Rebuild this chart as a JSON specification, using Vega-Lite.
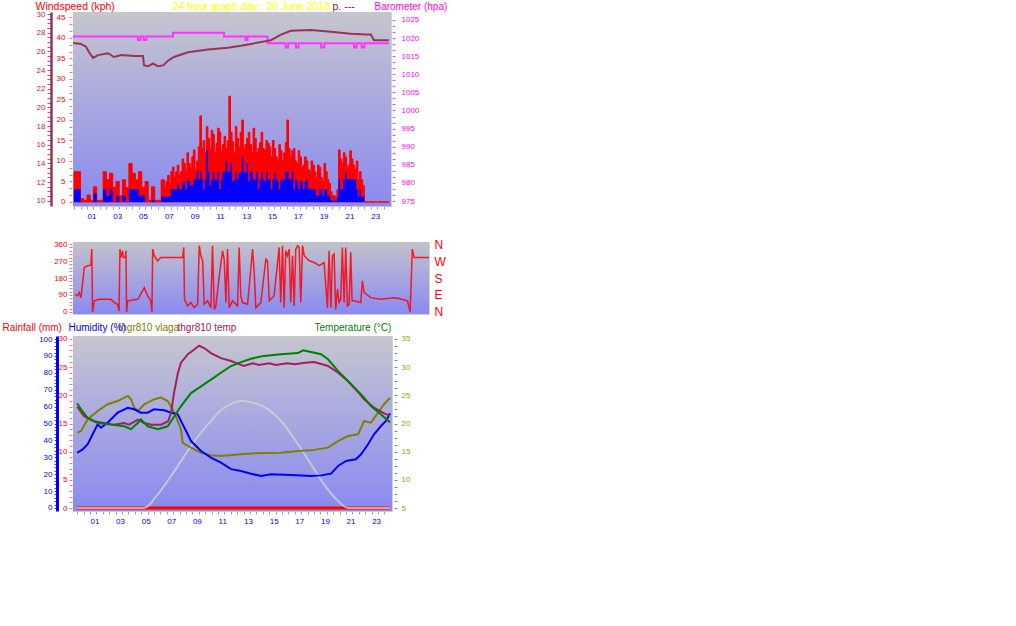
{
"$schema": "https://vega.github.io/schema/vega-lite/v6.json",
"background": "white",
"padding": {"left": 1, "top": 0, "right": 5, "bottom": 5},
"spacing": 2,
"config": {
  "font": "Liberation Sans",
  "view": {"stroke": "#d0d0d8"},
  "axis": {"labelFont": "Liberation Sans", "titleFont": "Liberation Sans", "labelOverlap": false, "labelBound": false, "titleFontWeight": "normal", "labelFlush": false},
  "title": {"font": "Liberation Sans", "fontWeight": "normal"}
},
"datasets": {
  "wind": [
    {"h":0,"g":7.4,"a":3.1},{"h":0.25,"g":7.4,"a":3.1},{"h":0.5,"g":0.8,"a":0},{"h":0.75,"g":0.4,"a":0},
    {"h":1,"g":1.7,"a":0},{"h":1.25,"g":0.4,"a":0},{"h":1.5,"g":3.7,"a":2},{"h":1.75,"g":0.4,"a":0},
    {"h":2,"g":0.4,"a":0},{"h":2.25,"g":7.4,"a":3.1},{"h":2.5,"g":5.4,"a":1.5},{"h":2.75,"g":7,"a":3.1},
    {"h":3,"g":3.6,"a":0},{"h":3.25,"g":5,"a":1.5},{"h":3.5,"g":1.5,"a":0},{"h":3.75,"g":5.4,"a":1.5},
    {"h":4,"g":3.5,"a":0},{"h":4.25,"g":9.4,"a":3.1},{"h":4.5,"g":7,"a":3.1},{"h":4.75,"g":5.4,"a":3.1},
    {"h":5,"g":7.4,"a":1.5},{"h":5.25,"g":3.6,"a":1.5},{"h":5.5,"g":5,"a":0},{"h":5.75,"g":0.4,"a":0},
    {"h":6,"g":3.7,"a":0.5},{"h":6.25,"g":0.4,"a":0},{"h":6.5,"g":0.4,"a":0},{"h":6.75,"g":5.4,"a":1.3},
    {"h":7,"g":3.7,"a":1.3},{"h":7.125,"g":5.0,"a":1.3},{"h":7.25,"g":6.5,"a":1.3},{"h":7.375,"g":4.5,"a":1.3},
    {"h":7.5,"g":7.4,"a":3.1},{"h":7.625,"g":8.5,"a":3.1},{"h":7.75,"g":6,"a":3.1},{"h":7.875,"g":7.4,"a":3.1},
    {"h":8,"g":9,"a":4.5},{"h":8.125,"g":6.5,"a":3.1},{"h":8.25,"g":7.4,"a":3.1},{"h":8.375,"g":10.5,"a":4.5},
    {"h":8.5,"g":9.4,"a":5},{"h":8.625,"g":7.4,"a":3.1},{"h":8.75,"g":12,"a":5.5},{"h":8.875,"g":9.4,"a":5},
    {"h":9,"g":8.5,"a":4},{"h":9.125,"g":11,"a":4},{"h":9.25,"g":12.7,"a":5.5},{"h":9.375,"g":8,"a":5.5},
    {"h":9.5,"g":10,"a":7.4},{"h":9.625,"g":13.5,"a":5.5},{"h":9.75,"g":21,"a":7.4},{"h":9.875,"g":13,"a":5.5},
    {"h":10,"g":15,"a":3.1},{"h":10.125,"g":12,"a":5.5},{"h":10.25,"g":18.4,"a":12.7},{"h":10.375,"g":15.5,"a":7.4},
    {"h":10.5,"g":13,"a":4},{"h":10.625,"g":17.5,"a":5.5},{"h":10.75,"g":16.5,"a":7.4},{"h":10.875,"g":12,"a":5.5},
    {"h":11,"g":14.3,"a":5.5},{"h":11.125,"g":18,"a":7.4},{"h":11.25,"g":17,"a":3.1},{"h":11.375,"g":12.5,"a":5.5},
    {"h":11.5,"g":14,"a":7.4},{"h":11.625,"g":16,"a":7.4},{"h":11.75,"g":13,"a":10},{"h":11.875,"g":15,"a":7.4},
    {"h":12,"g":25.8,"a":7.4},{"h":12.125,"g":17,"a":9.4},{"h":12.25,"g":14.7,"a":5},{"h":12.375,"g":12,"a":5.5},
    {"h":12.5,"g":18.4,"a":7.4},{"h":12.625,"g":15.5,"a":5.5},{"h":12.75,"g":13.4,"a":7},{"h":12.875,"g":17,"a":7.4},
    {"h":13,"g":20,"a":11},{"h":13.125,"g":13,"a":7.4},{"h":13.25,"g":14,"a":7},{"h":13.375,"g":15.5,"a":9.4},
    {"h":13.5,"g":17,"a":5},{"h":13.625,"g":14,"a":7.4},{"h":13.75,"g":12,"a":7.4},{"h":13.875,"g":18,"a":5.5},
    {"h":14,"g":15.5,"a":5.5},{"h":14.125,"g":12,"a":7.4},{"h":14.25,"g":13,"a":3.1},{"h":14.375,"g":14.5,"a":5.5},
    {"h":14.5,"g":17,"a":7.4},{"h":14.625,"g":13,"a":5.5},{"h":14.75,"g":12.5,"a":5},{"h":14.875,"g":15,"a":7.4},
    {"h":15,"g":14.3,"a":5.5},{"h":15.125,"g":13.5,"a":5.5},{"h":15.25,"g":11,"a":3.1},{"h":15.375,"g":15,"a":5.5},
    {"h":15.5,"g":13,"a":7},{"h":15.625,"g":11,"a":5.5},{"h":15.75,"g":10,"a":5},{"h":15.875,"g":14,"a":3.1},
    {"h":16,"g":12.5,"a":5.5},{"h":16.125,"g":10,"a":5.5},{"h":16.25,"g":12,"a":5.5},{"h":16.375,"g":14.5,"a":7.4},
    {"h":16.5,"g":20,"a":7.4},{"h":16.625,"g":13,"a":5.5},{"h":16.75,"g":11,"a":5.5},{"h":16.875,"g":12.5,"a":7.4},
    {"h":17,"g":13,"a":3.1},{"h":17.125,"g":10,"a":5.5},{"h":17.25,"g":9.4,"a":5},{"h":17.375,"g":12.5,"a":3.1},
    {"h":17.5,"g":11,"a":5},{"h":17.625,"g":8.5,"a":5},{"h":17.75,"g":9,"a":3.1},{"h":17.875,"g":11,"a":5},
    {"h":18,"g":10,"a":5.5},{"h":18.125,"g":8,"a":3.1},{"h":18.25,"g":7.4,"a":3.1},{"h":18.375,"g":10,"a":3.1},
    {"h":18.5,"g":9,"a":3.1},{"h":18.625,"g":7.4,"a":3.1},{"h":18.75,"g":6,"a":1.5},{"h":18.875,"g":9,"a":1.5},
    {"h":19,"g":8.5,"a":3.1},{"h":19.125,"g":6,"a":3.1},{"h":19.25,"g":5,"a":1.5},{"h":19.375,"g":9.4,"a":3.1},
    {"h":19.5,"g":7.4,"a":3.1},{"h":19.625,"g":5.5,"a":1.5},{"h":19.75,"g":4.5,"a":1.5},{"h":19.875,"g":2.5,"a":0.5},
    {"h":20,"g":1.5,"a":0.3},{"h":20.125,"g":1.5,"a":0.3},{"h":20.25,"g":1,"a":0.3},{"h":20.375,"g":3,"a":1.3},
    {"h":20.5,"g":12.7,"a":5.5},{"h":20.625,"g":10.5,"a":3.1},{"h":20.75,"g":9.4,"a":3.1},{"h":20.875,"g":12,"a":5.5},
    {"h":21,"g":11,"a":7.4},{"h":21.125,"g":8.5,"a":5.5},{"h":21.25,"g":9,"a":5.5},{"h":21.375,"g":12.5,"a":5.5},
    {"h":21.5,"g":10.5,"a":5.5},{"h":21.625,"g":9,"a":5.5},{"h":21.75,"g":8,"a":5.5},{"h":21.875,"g":10,"a":3.1},
    {"h":22,"g":5.4,"a":1.3},{"h":22.125,"g":7.4,"a":3.1},{"h":22.25,"g":5.4,"a":1.3},{"h":22.375,"g":4,"a":1.3},
    {"h":22.5,"g":0,"a":0},{"h":24.4,"g":0,"a":0}
  ],
  "baro": [
    {"h":-0.08,"p":1020.4},{"h":4.95,"p":1019.5},{"h":5.15,"p":1020.4},{"h":5.4,"p":1019.5},{"h":5.6,"p":1020.4},
    {"h":7.67,"p":1021.5},{"h":11.62,"p":1020.4},{"h":13.3,"p":1019.5},{"h":13.45,"p":1020.4},{"h":15.0,"p":1018.6},
    {"h":16.4,"p":1017.4},{"h":16.6,"p":1018.6},{"h":17.2,"p":1017.4},{"h":17.4,"p":1018.6},{"h":19.15,"p":1017.4},
    {"h":19.4,"p":1018.6},{"h":21.7,"p":1017.4},{"h":21.9,"p":1018.6},{"h":22.3,"p":1017.4},{"h":22.5,"p":1018.6},
    {"h":24.4,"p":1018.6}
  ],
  "ptemp": [
    {"h":-0.08,"v":26.9},{"h":0.53,"v":26.8},{"h":0.92,"v":26.5},{"h":1.16,"v":25.9},{"h":1.47,"v":25.3},
    {"h":1.85,"v":25.6},{"h":2.63,"v":25.8},{"h":3.09,"v":25.4},{"h":3.64,"v":25.6},{"h":4.64,"v":25.5},
    {"h":5.34,"v":25.5},{"h":5.42,"v":24.5},{"h":5.73,"v":24.4},{"h":6.12,"v":24.7},{"h":6.5,"v":24.4},
    {"h":6.9,"v":24.5},{"h":7.28,"v":25.0},{"h":7.74,"v":25.4},{"h":8.83,"v":25.9},{"h":10.38,"v":26.2},
    {"h":11.93,"v":26.4},{"h":12.94,"v":26.6},{"h":13.71,"v":26.8},{"h":15.26,"v":27.2},{"h":16.04,"v":27.8},
    {"h":16.81,"v":28.2},{"h":18.36,"v":28.3},{"h":19.91,"v":28.1},{"h":21.46,"v":27.9},{"h":22.63,"v":27.8},
    {"h":23.01,"v":27.8},{"h":23.25,"v":27.2},{"h":24.41,"v":27.2}
  ],
  "dir": [
    {"h":0,"d":94},{"h":0.18,"d":85},{"h":0.29,"d":103},{"h":0.41,"d":76},{"h":0.52,"d":156},{"h":0.63,"d":236},
    {"h":0.86,"d":245},{"h":1.08,"d":248},{"h":1.14,"d":333},{"h":1.19,"d":0},{"h":1.31,"d":59},{"h":1.65,"d":67},
    {"h":2.44,"d":67},{"h":2.67,"d":50},{"h":2.89,"d":41},{"h":2.99,"d":5},{"h":3.05,"d":333},{"h":3.12,"d":289},
    {"h":3.23,"d":324},{"h":3.28,"d":289},{"h":3.42,"d":289},{"h":3.46,"d":324},{"h":3.5,"d":0},{"h":3.57,"d":59},
    {"h":4.25,"d":67},{"h":4.36,"d":80},{"h":4.7,"d":129},{"h":4.93,"d":85},{"h":5.15,"d":59},{"h":5.22,"d":0},
    {"h":5.27,"d":333},{"h":5.38,"d":298},{"h":5.6,"d":271},{"h":5.83,"d":289},{"h":7.3,"d":289},{"h":7.38,"d":342},
    {"h":7.43,"d":67},{"h":7.64,"d":32},{"h":7.86,"d":50},{"h":8.09,"d":23},{"h":8.32,"d":41},{"h":8.43,"d":351},
    {"h":8.54,"d":298},{"h":8.66,"d":271},{"h":8.77,"d":41},{"h":9.0,"d":59},{"h":9.22,"d":23},{"h":9.33,"d":351},
    {"h":9.45,"d":14},{"h":9.56,"d":32},{"h":9.79,"d":191},{"h":10.01,"d":324},{"h":10.12,"d":280},{"h":10.24,"d":50},
    {"h":10.35,"d":333},{"h":10.46,"d":23},{"h":10.69,"d":59},{"h":11.03,"d":32},{"h":11.14,"d":342},{"h":11.25,"d":85},
    {"h":11.37,"d":50},{"h":11.71,"d":41},{"h":12.05,"d":333},{"h":12.16,"d":209},{"h":12.27,"d":23},{"h":12.61,"d":50},
    {"h":12.95,"d":280},{"h":13.06,"d":271},{"h":13.18,"d":59},{"h":13.51,"d":85},{"h":13.85,"d":342},{"h":13.96,"d":50},
    {"h":14.08,"d":351},{"h":14.19,"d":23},{"h":14.3,"d":324},{"h":14.42,"d":298},{"h":14.53,"d":333},{"h":14.64,"d":50},
    {"h":14.76,"d":298},{"h":14.87,"d":32},{"h":14.98,"d":333},{"h":15.1,"d":351},{"h":15.21,"d":342},{"h":15.32,"d":50},
    {"h":15.44,"d":351},{"h":15.55,"d":298},{"h":15.89,"d":271},{"h":16.23,"d":262},{"h":16.57,"d":245},{"h":16.9,"d":262},
    {"h":17.13,"d":23},{"h":17.24,"d":324},{"h":17.36,"d":23},{"h":17.47,"d":298},{"h":17.58,"d":307},{"h":17.69,"d":14},
    {"h":17.81,"d":121},{"h":17.92,"d":50},{"h":18.03,"d":67},{"h":18.14,"d":342},{"h":18.26,"d":50},{"h":18.37,"d":342},
    {"h":18.48,"d":32},{"h":18.6,"d":41},{"h":18.71,"d":316},{"h":18.8,"d":59},{"h":18.94,"d":59},{"h":19.39,"d":50},
    {"h":19.5,"d":165},{"h":19.62,"d":103},{"h":20.07,"d":76},{"h":20.75,"d":67},{"h":21.65,"d":76},{"h":21.99,"d":71},
    {"h":22.56,"d":59},{"h":22.74,"d":0},{"h":22.89,"d":333},{"h":23.01,"d":289},{"h":24.02,"d":289}
  ],
  "rain": [{"h":0,"r":0},{"h":24.44,"r":0}],
  "solar": [
    {"h":0,"s":0},{"h":5.24,"s":0},{"h":6.29,"s":8.1},{"h":7.33,"s":18.9},{"h":8.63,"s":33.7},{"h":9.67,"s":44.6},
    {"h":10.5,"s":52},{"h":11.23,"s":58},{"h":12.0,"s":61.5},{"h":12.8,"s":63.3},{"h":13.6,"s":62.5},{"h":14.6,"s":59.8},
    {"h":15.92,"s":51.5},{"h":17.25,"s":37.7},{"h":18.27,"s":25.8},{"h":19.28,"s":14.0},{"h":20.38,"s":4.1},{"h":21.16,"s":0},
    {"h":24.44,"s":0}
  ],
  "temp": [
    {"h":0,"T":23.6},{"h":0.3,"T":22.5},{"h":0.82,"T":21.0},{"h":1.6,"T":20.1},{"h":2.64,"T":19.8},{"h":3.66,"T":19.5},
    {"h":4.2,"T":19.0},{"h":4.73,"T":20.1},{"h":4.98,"T":20.7},{"h":5.51,"T":19.5},{"h":6.29,"T":19.0},{"h":7.07,"T":19.5},
    {"h":7.59,"T":21.3},{"h":8.11,"T":23.1},{"h":8.89,"T":25.4},{"h":9.67,"T":26.6},{"h":10.45,"T":27.8},{"h":11.23,"T":29.0},
    {"h":12.02,"T":30.2},{"h":12.8,"T":30.9},{"h":13.58,"T":31.5},{"h":14.59,"T":32.0},{"h":15.92,"T":32.3},{"h":17.25,"T":32.5},
    {"h":17.64,"T":33.0},{"h":18.27,"T":32.7},{"h":19.05,"T":32.3},{"h":19.59,"T":31.4},{"h":20.38,"T":29.3},{"h":21.16,"T":27.5},
    {"h":21.94,"T":25.7},{"h":22.41,"T":24.6},{"h":22.95,"T":23.1},{"h":23.73,"T":21.6},{"h":24.44,"T":20.2}
  ],
  "ttemp": [
    {"h":0,"T":23.0},{"h":0.53,"T":21.3},{"h":1.31,"T":20.4},{"h":2.09,"T":20.1},{"h":2.87,"T":19.8},{"h":3.66,"T":20.1},
    {"h":4.05,"T":19.8},{"h":4.75,"T":20.7},{"h":5.22,"T":20.1},{"h":5.8,"T":19.8},{"h":6.55,"T":19.8},{"h":7.1,"T":20.4},
    {"h":7.33,"T":21.9},{"h":7.56,"T":25.4},{"h":7.87,"T":29.0},{"h":8.11,"T":30.8},{"h":8.65,"T":32.3},{"h":9.12,"T":33.1},
    {"h":9.52,"T":33.8},{"h":9.91,"T":33.4},{"h":10.45,"T":32.5},{"h":11.23,"T":31.6},{"h":12.02,"T":31.1},{"h":12.8,"T":30.4},
    {"h":13.0,"T":30.2},{"h":13.7,"T":30.7},{"h":14.2,"T":30.4},{"h":15.0,"T":30.7},{"h":15.5,"T":30.4},{"h":16.4,"T":30.7},
    {"h":17.0,"T":30.5},{"h":17.8,"T":30.8},{"h":18.5,"T":30.9},{"h":19.0,"T":30.6},{"h":19.59,"T":30.2},{"h":20.38,"T":29.0},
    {"h":21.16,"T":27.5},{"h":21.94,"T":25.6},{"h":22.41,"T":24.3},{"h":23.19,"T":22.8},{"h":23.97,"T":21.8},{"h":24.44,"T":21.4}
  ],
  "hum": [
    {"h":0,"H":32.7},{"h":0.43,"H":34.7},{"h":0.82,"H":37.7},{"h":1.21,"H":43.6},{"h":1.6,"H":49.5},{"h":1.86,"H":47.5},
    {"h":2.38,"H":50.5},{"h":3.16,"H":56.4},{"h":3.95,"H":59.3},{"h":4.46,"H":58.4},{"h":4.98,"H":56.4},{"h":5.51,"H":56.4},
    {"h":6.0,"H":58.4},{"h":6.8,"H":57.8},{"h":7.33,"H":56.4},{"h":7.85,"H":55.4},{"h":8.24,"H":49.5},{"h":8.63,"H":43.6},
    {"h":8.89,"H":39.6},{"h":9.67,"H":33.7},{"h":10.45,"H":29.8},{"h":11.23,"H":26.8},{"h":12.02,"H":23.0},{"h":12.8,"H":21.9},
    {"h":13.58,"H":20.3},{"h":14.36,"H":18.9},{"h":15.14,"H":19.9},{"h":16.7,"H":19.5},{"h":18.27,"H":18.9},{"h":19.05,"H":19.3},
    {"h":19.83,"H":20.3},{"h":20.38,"H":24.9},{"h":21.0,"H":27.8},{"h":21.78,"H":28.8},{"h":22.17,"H":31.8},{"h":22.72,"H":37.7},
    {"h":23.19,"H":43.6},{"h":23.73,"H":48.5},{"h":24.12,"H":51.5},{"h":24.44,"H":56.0}
  ],
  "vlaga": [
    {"h":0,"H":44.6},{"h":0.3,"H":45.6},{"h":0.82,"H":52.5},{"h":1.6,"H":57.4},{"h":2.38,"H":61.4},{"h":3.16,"H":63.3},
    {"h":3.95,"H":66.3},{"h":4.2,"H":64.4},{"h":4.46,"H":59.3},{"h":4.73,"H":57.4},{"h":5.24,"H":61.4},{"h":6.02,"H":64.4},
    {"h":6.55,"H":65.3},{"h":7.07,"H":63.3},{"h":7.59,"H":56.4},{"h":8.11,"H":46.6},{"h":8.24,"H":38.6},{"h":8.89,"H":35.7},
    {"h":9.67,"H":32.7},{"h":10.45,"H":31.2},{"h":11.23,"H":30.7},{"h":12.8,"H":31.8},{"h":13.58,"H":32.3},{"h":15.92,"H":32.7},
    {"h":17.25,"H":33.7},{"h":18.27,"H":34.1},{"h":19.59,"H":35.7},{"h":20.38,"H":39.6},{"h":21.16,"H":42.6},{"h":21.94,"H":43.6},
    {"h":22.41,"H":51.5},{"h":22.95,"H":50.5},{"h":23.5,"H":56.4},{"h":23.97,"H":61.4},{"h":24.44,"H":65.3}
  ]
},
"vconcat": [
{
  "width": 318, "height": 194,
  "resolve": {"scale": {"y": "independent"}},
  "layer": [
    {"data": {"values": [{}]}, "mark": {"type": "rect", "color": {"gradient": "linear", "x1": 0, "y1": 0, "x2": 0, "y2": 1, "stops": [{"offset": 0, "color": "#c6c6ce"}, {"offset": 0.35, "color": "#b0b0dc"}, {"offset": 1, "color": "#8a8af0"}]}}, "encoding": {}},
    {"data": {"name": "wind"}, "mark": {"type": "area", "interpolate": "step-after", "color": "#ff0000", "stroke": "#ff0000", "strokeWidth": 1},
     "encoding": {
       "x": {"field": "h", "type": "quantitative", "scale": {"domain": [-0.085, 24.57], "nice": false, "zero": false},
             "axis": {"values": [0,0.5,1,1.5,2,2.5,3,3.5,4,4.5,5,5.5,6,6.5,7,7.5,8,8.5,9,9.5,10,10.5,11,11.5,12,12.5,13,13.5,14,14.5,15,15.5,16,16.5,17,17.5,18,18.5,19,19.5,20,20.5,21,21.5,22,22.5,23,23.5,24],
                      "labelExpr": "datum.value % 2 == 1 ? (datum.value < 10 ? '0' + datum.value : '' + datum.value) : ''",
                      "labelAlign": "left", "labelColor": "#0000ff", "labelFontSize": 8, "labelPadding": 3, "tickSize": 3, "tickColor": "#a0a0a0", "domainColor": "#c8c8c8",
                      "grid": true, "gridColor": "#eeeeff", "gridDash": [1, 2], "gridOpacity": {"condition": {"test": "datum.value % 2 == 1", "value": 0.5}, "value": 0},
                      "title": " ", "titleFontSize": 11, "titlePadding": 3}},
       "y": {"field": "g", "type": "quantitative", "scale": {"domain": [-0.976, 46.34], "nice": false, "zero": false},
             "axis": {"orient": "left", "offset": 1, "values": [0,1.667,3.333,5,6.667,8.333,10,11.667,13.333,15,16.667,18.333,20,21.667,23.333,25,26.667,28.333,30,31.667,33.333,35,36.667,38.333,40,41.667,43.333,45],
                      "labelExpr": "datum.value % 5 == 0 ? '' + datum.value : ''", "tickSize": 3, "tickColor": "#ff7070", "labelColor": "#ff0000", "labelFontSize": 8, "labelPadding": 4, "domain": false,
                      "grid": true, "gridColor": "#eeeeff", "gridDash": [1, 2], "gridOpacity": {"condition": {"test": "datum.value % 5 == 0", "value": 0.4}, "value": 0},
                      "title": "Windspeed (kph)", "titleColor": "#ff0000", "titleFontSize": 10.5, "titleAngle": 0, "titleAlign": "left", "titleBaseline": "middle", "titleX": -37, "titleY": -6}},
       "y2": {"datum": 0}
     }},
    {"data": {"name": "wind"}, "mark": {"type": "area", "interpolate": "step-after", "color": "#0000ff"},
     "encoding": {
       "x": {"field": "h", "type": "quantitative", "scale": {"domain": [-0.085, 24.57], "nice": false, "zero": false},
             "axis": {"values": [0,0.5,1,1.5,2,2.5,3,3.5,4,4.5,5,5.5,6,6.5,7,7.5,8,8.5,9,9.5,10,10.5,11,11.5,12,12.5,13,13.5,14,14.5,15,15.5,16,16.5,17,17.5,18,18.5,19,19.5,20,20.5,21,21.5,22,22.5,23,23.5,24],
                      "labelExpr": "datum.value % 2 == 1 ? (datum.value < 10 ? '0' + datum.value : '' + datum.value) : ''",
                      "labelAlign": "left", "labelColor": "#0000ff", "labelFontSize": 8, "labelPadding": 3, "tickSize": 3, "tickColor": "#a0a0a0", "domainColor": "#c8c8c8",
                      "grid": true, "gridColor": "#eeeeff", "gridDash": [1, 2], "gridOpacity": {"condition": {"test": "datum.value % 2 == 1", "value": 0.5}, "value": 0},
                      "title": " ", "titleFontSize": 11, "titlePadding": 3}},
       "y": {"field": "a", "type": "quantitative", "scale": {"domain": [-0.976, 46.34], "nice": false, "zero": false},
             "axis": {"orient": "left", "offset": 0, "labels": false, "ticks": false, "domain": false, "grid": false,
                      "title": "24 hour graph day : 20 June 2018", "titleColor": "#ffff00", "titleFontSize": 10.5, "titleAngle": 0, "titleAlign": "left", "titleBaseline": "middle", "titleX": 99, "titleY": -6}},
       "y2": {"datum": 0}
     }},
    {"data": {"name": "baro"}, "mark": {"type": "line", "interpolate": "step-after", "color": "#ff33ff", "strokeWidth": 2},
     "encoding": {
       "x": {"field": "h", "type": "quantitative", "scale": {"domain": [-0.085, 24.57], "nice": false, "zero": false},
             "axis": {"values": [0,0.5,1,1.5,2,2.5,3,3.5,4,4.5,5,5.5,6,6.5,7,7.5,8,8.5,9,9.5,10,10.5,11,11.5,12,12.5,13,13.5,14,14.5,15,15.5,16,16.5,17,17.5,18,18.5,19,19.5,20,20.5,21,21.5,22,22.5,23,23.5,24],
                      "labelExpr": "datum.value % 2 == 1 ? (datum.value < 10 ? '0' + datum.value : '' + datum.value) : ''",
                      "labelAlign": "left", "labelColor": "#0000ff", "labelFontSize": 8, "labelPadding": 3, "tickSize": 3, "tickColor": "#a0a0a0", "domainColor": "#c8c8c8",
                      "grid": true, "gridColor": "#eeeeff", "gridDash": [1, 2], "gridOpacity": {"condition": {"test": "datum.value % 2 == 1", "value": 0.5}, "value": 0},
                      "title": " ", "titleFontSize": 11, "titlePadding": 3}},
       "y": {"field": "p", "type": "quantitative", "scale": {"domain": [973.62, 1027.2], "nice": false, "zero": false},
             "axis": {"orient": "right", "offset": 1, "values": [975,976.667,978.333,980,981.667,983.333,985,986.667,988.333,990,991.667,993.333,995,996.667,998.333,1000,1001.667,1003.333,1005,1006.667,1008.333,1010,1011.667,1013.333,1015,1016.667,1018.333,1020,1021.667,1023.333,1025],
                      "labelExpr": "datum.value % 5 == 0 ? '' + datum.value : ''", "tickSize": 3, "tickColor": "#ff44ff", "labelColor": "#ff00ff", "labelFontSize": 8, "labelPadding": 6, "domain": false, "grid": false,
                      "title": "Barometer (hpa)", "titleColor": "#ff00ff", "titleFontSize": 10, "titleAngle": 0, "titleAlign": "left", "titleBaseline": "middle", "titleX": -18, "titleY": -6}}
     }},
    {"data": {"name": "ptemp"}, "mark": {"type": "line", "color": "#993355", "strokeWidth": 2},
     "encoding": {
       "x": {"field": "h", "type": "quantitative", "scale": {"domain": [-0.085, 24.57], "nice": false, "zero": false},
             "axis": {"values": [0,0.5,1,1.5,2,2.5,3,3.5,4,4.5,5,5.5,6,6.5,7,7.5,8,8.5,9,9.5,10,10.5,11,11.5,12,12.5,13,13.5,14,14.5,15,15.5,16,16.5,17,17.5,18,18.5,19,19.5,20,20.5,21,21.5,22,22.5,23,23.5,24],
                      "labelExpr": "datum.value % 2 == 1 ? (datum.value < 10 ? '0' + datum.value : '' + datum.value) : ''",
                      "labelAlign": "left", "labelColor": "#0000ff", "labelFontSize": 8, "labelPadding": 3, "tickSize": 3, "tickColor": "#a0a0a0", "domainColor": "#c8c8c8",
                      "grid": true, "gridColor": "#eeeeff", "gridDash": [1, 2], "gridOpacity": {"condition": {"test": "datum.value % 2 == 1", "value": 0.5}, "value": 0},
                      "title": " ", "titleFontSize": 11, "titlePadding": 3}},
       "y": {"field": "v", "type": "quantitative", "scale": {"domain": [9.43, 30.22], "nice": false, "zero": false},
             "axis": {"orient": "left", "offset": 22, "values": [10,10.5,11,11.5,12,12.5,13,13.5,14,14.5,15,15.5,16,16.5,17,17.5,18,18.5,19,19.5,20,20.5,21,21.5,22,22.5,23,23.5,24,24.5,25,25.5,26,26.5,27,27.5,28,28.5,29,29.5,30],
                      "labelExpr": "datum.value % 2 == 0 ? '' + datum.value : ''", "tickSize": 4, "tickColor": "#c05080", "domainColor": "#993355", "domainWidth": 2.5, "labelColor": "#cc1a4a", "labelFontSize": 8, "labelPadding": 2, "grid": false,
                      "title": "p. ---", "titleColor": "#8b1a3a", "titleFontSize": 10.5, "titleAngle": 0, "titleAlign": "left", "titleBaseline": "middle", "titleX": 281, "titleY": -6}}
     }}
  ]
},
{
  "width": 356, "height": 72,
  "resolve": {"scale": {"y": "independent"}},
  "layer": [
    {"data": {"values": [{}]}, "mark": {"type": "rect", "color": {"gradient": "linear", "x1": 0, "y1": 0, "x2": 0, "y2": 1, "stops": [{"offset": 0, "color": "#c2c2ca"}, {"offset": 0.4, "color": "#acacdc"}, {"offset": 1, "color": "#8a8af0"}]}}, "encoding": {}},
    {"data": {"name": "dir"}, "mark": {"type": "line", "color": "#ff0000", "strokeWidth": 1.5, "opacity": 0.85},
     "encoding": {
       "x": {"field": "h", "type": "quantitative", "scale": {"domain": [-0.136, 24.02], "nice": false, "zero": false}, "axis": null},
       "y": {"field": "d", "type": "quantitative", "scale": {"domain": [-10.6, 370.6], "nice": false, "zero": false},
             "axis": {"orient": "left", "offset": 1, "values": [0,18,36,54,72,90,108,126,144,162,180,198,216,234,252,270,288,306,324,342,360],
                      "labelExpr": "datum.value % 90 == 0 ? '' + datum.value : ''", "tickSize": 3, "tickColor": "#ff7070", "labelColor": "#ff0000", "labelFontSize": 8, "labelPadding": 2, "domain": false,
                      "grid": true, "gridColor": "#eeeeff", "gridDash": [1, 2], "gridOpacity": {"condition": {"test": "datum.value % 90 == 0", "value": 0.45}, "value": 0}, "title": null}}
     }},
    {"data": {"name": "dir"}, "mark": {"type": "line", "opacity": 0},
     "encoding": {
       "x": {"field": "h", "type": "quantitative", "scale": {"domain": [-0.136, 24.02], "nice": false, "zero": false}, "axis": null},
       "y": {"field": "d", "type": "quantitative", "scale": {"domain": [-10.6, 370.6], "nice": false, "zero": false},
             "axis": {"orient": "right", "offset": 3, "values": [0, 90, 180, 270, 360], "labelExpr": "datum.value == 90 ? 'E' : datum.value == 180 ? 'S' : datum.value == 270 ? 'W' : 'N'",
                      "ticks": false, "domain": false, "grid": false, "labelColor": "#ff0000", "labelFontSize": 12, "labelPadding": 2, "title": null}}
     }}
  ]
},
{
  "width": 319, "height": 175,
  "resolve": {"scale": {"y": "independent"}},
  "layer": [
    {"data": {"values": [{}]}, "mark": {"type": "rect", "color": {"gradient": "linear", "x1": 0, "y1": 0, "x2": 0, "y2": 1, "stops": [{"offset": 0, "color": "#c6c6ce"}, {"offset": 0.35, "color": "#b0b0dc"}, {"offset": 1, "color": "#8a8af0"}]}}, "encoding": {}},
    {"data": {"name": "rain"}, "mark": {"type": "line", "color": "#ff0000", "strokeWidth": 3},
     "encoding": {
       "x": {"field": "h", "type": "quantitative", "scale": {"domain": [-0.328, 24.59], "nice": false, "zero": false},
             "axis": {"values": [0,0.5,1,1.5,2,2.5,3,3.5,4,4.5,5,5.5,6,6.5,7,7.5,8,8.5,9,9.5,10,10.5,11,11.5,12,12.5,13,13.5,14,14.5,15,15.5,16,16.5,17,17.5,18,18.5,19,19.5,20,20.5,21,21.5,22,22.5,23,23.5,24],
                      "labelExpr": "datum.value % 2 == 1 ? (datum.value < 10 ? '0' + datum.value : '' + datum.value) : ''",
                      "labelAlign": "left", "labelColor": "#0000ff", "labelFontSize": 8, "labelPadding": 3, "tickSize": 3, "tickColor": "#a0a0a0", "domainColor": "#c8c8c8",
                      "grid": true, "gridColor": "#eeeeff", "gridDash": [1, 2], "gridOpacity": {"condition": {"test": "datum.value % 2 == 1", "value": 0.5}, "value": 0}, "title": null}},
       "y": {"field": "r", "type": "quantitative", "scale": {"domain": [-0.53, 30.53], "nice": false, "zero": false},
             "axis": {"orient": "left", "offset": 1, "values": [0,1,2,3,4,5,6,7,8,9,10,11,12,13,14,15,16,17,18,19,20,21,22,23,24,25,26,27,28,29,30],
                      "labelExpr": "datum.value % 5 == 0 ? '' + datum.value : ''", "tickSize": 3, "tickColor": "#ff7070", "labelColor": "#ff0000", "labelFontSize": 8, "labelPadding": 2, "domain": false,
                      "grid": true, "gridColor": "#eeeeff", "gridDash": [1, 2], "gridOpacity": {"condition": {"test": "datum.value % 5 == 0", "value": 0.45}, "value": 0},
                      "title": "Rainfall (mm)", "titleColor": "#ff0000", "titleFontSize": 10, "titleAngle": 0, "titleAlign": "left", "titleBaseline": "middle", "titleX": -70, "titleY": -9}}
     }},
    {"data": {"name": "solar"}, "mark": {"type": "line", "color": "#d4d4d4", "strokeWidth": 2, "opacity": 0.75, "interpolate": "monotone"},
     "encoding": {
       "x": {"field": "h", "type": "quantitative", "scale": {"domain": [-0.328, 24.59], "nice": false, "zero": false},
             "axis": {"values": [0,0.5,1,1.5,2,2.5,3,3.5,4,4.5,5,5.5,6,6.5,7,7.5,8,8.5,9,9.5,10,10.5,11,11.5,12,12.5,13,13.5,14,14.5,15,15.5,16,16.5,17,17.5,18,18.5,19,19.5,20,20.5,21,21.5,22,22.5,23,23.5,24],
                      "labelExpr": "datum.value % 2 == 1 ? (datum.value < 10 ? '0' + datum.value : '' + datum.value) : ''",
                      "labelAlign": "left", "labelColor": "#0000ff", "labelFontSize": 8, "labelPadding": 3, "tickSize": 3, "tickColor": "#a0a0a0", "domainColor": "#c8c8c8",
                      "grid": true, "gridColor": "#eeeeff", "gridDash": [1, 2], "gridOpacity": {"condition": {"test": "datum.value % 2 == 1", "value": 0.5}, "value": 0}, "title": null}},
       "y": {"field": "s", "type": "quantitative", "scale": {"domain": [-1.78, 101.78], "nice": false, "zero": false}, "axis": null}
     }},
    {"data": {"name": "vlaga"}, "mark": {"type": "line", "color": "#808000", "strokeWidth": 2},
     "encoding": {
       "x": {"field": "h", "type": "quantitative", "scale": {"domain": [-0.328, 24.59], "nice": false, "zero": false},
             "axis": {"values": [0,0.5,1,1.5,2,2.5,3,3.5,4,4.5,5,5.5,6,6.5,7,7.5,8,8.5,9,9.5,10,10.5,11,11.5,12,12.5,13,13.5,14,14.5,15,15.5,16,16.5,17,17.5,18,18.5,19,19.5,20,20.5,21,21.5,22,22.5,23,23.5,24],
                      "labelExpr": "datum.value % 2 == 1 ? (datum.value < 10 ? '0' + datum.value : '' + datum.value) : ''",
                      "labelAlign": "left", "labelColor": "#0000ff", "labelFontSize": 8, "labelPadding": 3, "tickSize": 3, "tickColor": "#a0a0a0", "domainColor": "#c8c8c8",
                      "grid": true, "gridColor": "#eeeeff", "gridDash": [1, 2], "gridOpacity": {"condition": {"test": "datum.value % 2 == 1", "value": 0.5}, "value": 0}, "title": null}},
       "y": {"field": "H", "type": "quantitative", "scale": {"domain": [-1.78, 101.78], "nice": false, "zero": false},
             "axis": {"orient": "left", "offset": 0, "labels": false, "ticks": false, "domain": false, "grid": false,
                      "title": "thgr810 vlaga", "titleColor": "#808000", "titleFontSize": 10, "titleAngle": 0, "titleAlign": "left", "titleBaseline": "middle", "titleX": 45, "titleY": -9}}
     }},
    {"data": {"name": "hum"}, "mark": {"type": "line", "color": "#0000ff", "strokeWidth": 2},
     "encoding": {
       "x": {"field": "h", "type": "quantitative", "scale": {"domain": [-0.328, 24.59], "nice": false, "zero": false},
             "axis": {"values": [0,0.5,1,1.5,2,2.5,3,3.5,4,4.5,5,5.5,6,6.5,7,7.5,8,8.5,9,9.5,10,10.5,11,11.5,12,12.5,13,13.5,14,14.5,15,15.5,16,16.5,17,17.5,18,18.5,19,19.5,20,20.5,21,21.5,22,22.5,23,23.5,24],
                      "labelExpr": "datum.value % 2 == 1 ? (datum.value < 10 ? '0' + datum.value : '' + datum.value) : ''",
                      "labelAlign": "left", "labelColor": "#0000ff", "labelFontSize": 8, "labelPadding": 3, "tickSize": 3, "tickColor": "#a0a0a0", "domainColor": "#c8c8c8",
                      "grid": true, "gridColor": "#eeeeff", "gridDash": [1, 2], "gridOpacity": {"condition": {"test": "datum.value % 2 == 1", "value": 0.5}, "value": 0}, "title": null}},
       "y": {"field": "H", "type": "quantitative", "scale": {"domain": [-1.78, 101.78], "nice": false, "zero": false},
             "axis": {"orient": "left", "offset": 16, "values": [0,2,4,6,8,10,12,14,16,18,20,22,24,26,28,30,32,34,36,38,40,42,44,46,48,50,52,54,56,58,60,62,64,66,68,70,72,74,76,78,80,82,84,86,88,90,92,94,96,98,100],
                      "labelExpr": "datum.value % 10 == 0 ? '' + datum.value : ''", "tickSize": 3, "tickColor": "#4040ff", "domainColor": "#0000ff", "domainWidth": 3, "labelColor": "#0000ff", "labelFontSize": 8, "labelPadding": 2, "grid": false,
                      "title": "Humidity (%)", "titleColor": "#0000ff", "titleFontSize": 10, "titleAngle": 0, "titleAlign": "left", "titleBaseline": "middle", "titleX": 11, "titleY": -9}}
     }},
    {"data": {"name": "ttemp"}, "mark": {"type": "line", "color": "#a0205a", "strokeWidth": 2},
     "encoding": {
       "x": {"field": "h", "type": "quantitative", "scale": {"domain": [-0.328, 24.59], "nice": false, "zero": false},
             "axis": {"values": [0,0.5,1,1.5,2,2.5,3,3.5,4,4.5,5,5.5,6,6.5,7,7.5,8,8.5,9,9.5,10,10.5,11,11.5,12,12.5,13,13.5,14,14.5,15,15.5,16,16.5,17,17.5,18,18.5,19,19.5,20,20.5,21,21.5,22,22.5,23,23.5,24],
                      "labelExpr": "datum.value % 2 == 1 ? (datum.value < 10 ? '0' + datum.value : '' + datum.value) : ''",
                      "labelAlign": "left", "labelColor": "#0000ff", "labelFontSize": 8, "labelPadding": 3, "tickSize": 3, "tickColor": "#a0a0a0", "domainColor": "#c8c8c8",
                      "grid": true, "gridColor": "#eeeeff", "gridDash": [1, 2], "gridOpacity": {"condition": {"test": "datum.value % 2 == 1", "value": 0.5}, "value": 0}, "title": null}},
       "y": {"field": "T", "type": "quantitative", "scale": {"domain": [4.47, 35.53], "nice": false, "zero": false},
             "axis": {"orient": "left", "offset": 0, "labels": false, "ticks": false, "domain": false, "grid": false,
                      "title": "thgr810 temp", "titleColor": "#a0205a", "titleFontSize": 10, "titleAngle": 0, "titleAlign": "left", "titleBaseline": "middle", "titleX": 104, "titleY": -9}}
     }},
    {"data": {"name": "temp"}, "mark": {"type": "line", "color": "#008000", "strokeWidth": 2},
     "encoding": {
       "x": {"field": "h", "type": "quantitative", "scale": {"domain": [-0.328, 24.59], "nice": false, "zero": false},
             "axis": {"values": [0,0.5,1,1.5,2,2.5,3,3.5,4,4.5,5,5.5,6,6.5,7,7.5,8,8.5,9,9.5,10,10.5,11,11.5,12,12.5,13,13.5,14,14.5,15,15.5,16,16.5,17,17.5,18,18.5,19,19.5,20,20.5,21,21.5,22,22.5,23,23.5,24],
                      "labelExpr": "datum.value % 2 == 1 ? (datum.value < 10 ? '0' + datum.value : '' + datum.value) : ''",
                      "labelAlign": "left", "labelColor": "#0000ff", "labelFontSize": 8, "labelPadding": 3, "tickSize": 3, "tickColor": "#a0a0a0", "domainColor": "#c8c8c8",
                      "grid": true, "gridColor": "#eeeeff", "gridDash": [1, 2], "gridOpacity": {"condition": {"test": "datum.value % 2 == 1", "value": 0.5}, "value": 0}, "title": null}},
       "y": {"field": "T", "type": "quantitative", "scale": {"domain": [4.47, 35.53], "nice": false, "zero": false},
             "axis": {"orient": "right", "offset": 2, "values": [5,6.25,7.5,8.75,10,11.25,12.5,13.75,15,16.25,17.5,18.75,20,21.25,22.5,23.75,25,26.25,27.5,28.75,30,31.25,32.5,33.75,35],
                      "labelExpr": "datum.value % 5 == 0 ? '' + datum.value : ''", "tickSize": 3, "tickColor": "#50b050", "labelColor": "#a0a000", "labelFontSize": 8, "labelPadding": 4, "domain": false, "grid": false,
                      "title": "Temperature (°C)", "titleColor": "#008000", "titleFontSize": 10, "titleAngle": 0, "titleAlign": "left", "titleBaseline": "middle", "titleX": -80, "titleY": -9}}
     }}
  ]
}
]
}
